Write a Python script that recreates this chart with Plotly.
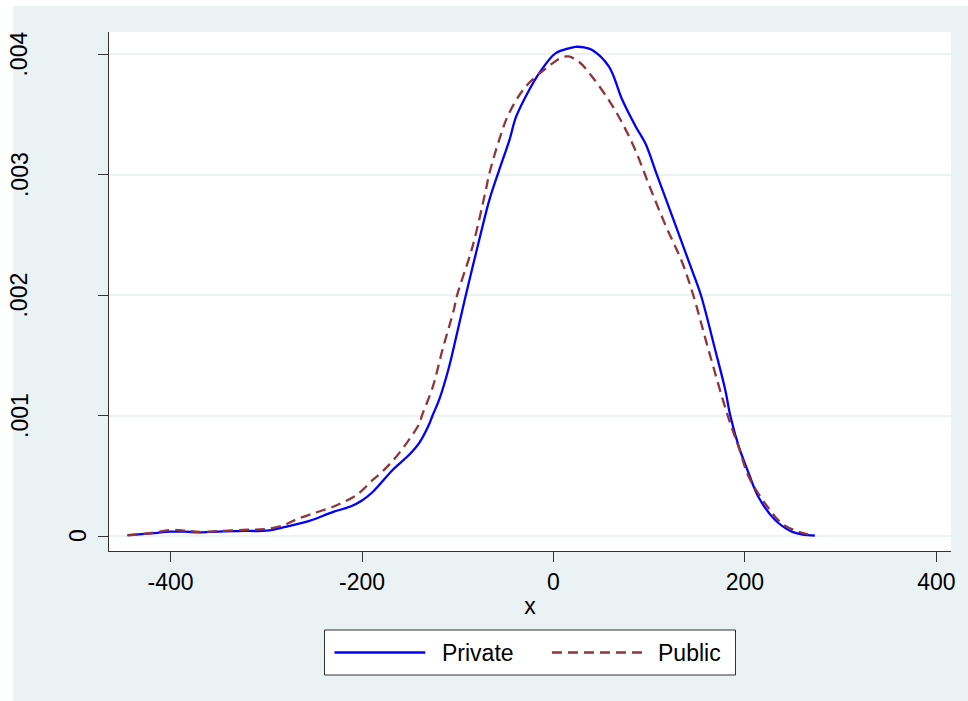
import plotly.graph_objects as go

# ---- data ----
private_x = [-445, -420, -400, -385, -370, -350, -320, -300, -280, -255, -230, -212, -200, -188.8,
             -168, -150, -140, -130, -126.3, -119, -109, -98.5, -91.5, -77.6, -67, -57, -46, -39, -25.5,
             -15, 2, 16, 23, 32, 40.5, 58, 72, 86, 96, 108, 127, 145, 154, 169, 179.5, 184.7, 193.3,
             204, 214, 231.6, 249, 260, 273]
private_y = [0.000008, 0.000022, 0.000036, 0.000036, 0.000030, 0.000037, 0.000042, 0.000044, 0.000075,
             0.000125, 0.000200, 0.000245, 0.000295, 0.000365, 0.000548, 0.000680, 0.000775, 0.000925,
             0.001000, 0.001140, 0.001405, 0.001760, 0.002000, 0.002456, 0.002788, 0.003030, 0.003286,
             0.003480, 0.003700, 0.003840, 0.004006, 0.004047, 0.004060, 0.004055, 0.004033, 0.003895,
             0.003618, 0.003397, 0.003259, 0.003000, 0.002590, 0.002200, 0.002000, 0.001544, 0.001212,
             0.001000, 0.000750, 0.000520, 0.000326, 0.000133, 0.000036, 0.000012, 0.000004]

public_x = [-445, -420, -400, -385, -370, -350, -320, -300, -280, -268, -250, -230, -223.5, -205.7,
            -188.8, -178, -161, -140, -137.4, -126, -116, -104, -100.6, -84.6, -70.7, -67.2, -56.8, -46.4,
            -29, -8, 9, 16, 26.6, 40.4, 57.8, 71.7, 85.7, 99.5, 117, 134, 146, 162, 182, 193.3, 204,
            221, 238.5, 256, 270]
public_y = [0.000005, 0.000025, 0.000050, 0.000045, 0.000033, 0.000040, 0.000052, 0.000058, 0.000095,
            0.000140, 0.000190, 0.000243, 0.000266, 0.000340, 0.000465, 0.000540, 0.000690, 0.000935,
            0.001000, 0.001239, 0.001544, 0.001880, 0.002000, 0.002400, 0.002870, 0.003000, 0.003286,
            0.003508, 0.003730, 0.003880, 0.003973, 0.003980, 0.003936, 0.003812, 0.003618, 0.003430,
            0.003200, 0.002920, 0.002580, 0.002280, 0.002000, 0.001544, 0.001000, 0.000741, 0.000492,
            0.000271, 0.000105, 0.000036, 0.000008]

series_names = ["Private", "Public"]
x_ticks = [-400, -200, 0, 200, 400]
x_tick_text = ["-400", "-200", "0", "200", "400"]
y_ticks = [0, 0.001, 0.002, 0.003, 0.004]
y_tick_text = ["0", ".001", ".002", ".003", ".004"]
x_title = "x"

# ---- style ----
BG = "#EAF2F3"
BLUE = "#0000FF"
MAROON = "#90353B"
FONT = "Liberation Sans, Arial, sans-serif"
FS = 23

W, H = 968, 701
L, R, T, B = 109, 15, 32, 150
pw, ph = W - L - R, H - T - B


def px_x(p):
    return (p - L) / pw


def px_y(p):
    return (H - B - p) / ph


fig = go.Figure()
fig.add_trace(go.Scatter(x=private_x, y=private_y, mode="lines", name=series_names[0],
                         line=dict(color=BLUE, width=2.3, shape="spline", smoothing=1.0),
                         showlegend=False))
fig.add_trace(go.Scatter(x=public_x, y=public_y, mode="lines", name=series_names[1],
                         line=dict(color=MAROON, width=2.3, dash="10px,6px", shape="spline", smoothing=1.0),
                         showlegend=False))

fig.update_layout(
    width=W, height=H,
    margin=dict(l=L, r=R, t=T, b=B, pad=0),
    paper_bgcolor=BG, plot_bgcolor="white",
    font=dict(family=FONT, size=FS, color="black"),
    xaxis=dict(range=[-464.3, 415.3], tickvals=x_ticks, ticktext=x_tick_text,
               ticks="outside", ticklen=10, tickwidth=1, tickcolor="#333333",
               showline=True, linecolor="#333333", linewidth=1.2, showgrid=False, zeroline=False,
               tickfont=dict(size=FS), title=dict(text=x_title, font=dict(size=FS), standoff=4)),
    yaxis=dict(range=[-0.0001245, 0.004183], tickvals=y_ticks,
               ticks="outside", ticklen=10, tickwidth=1, tickcolor="#333333",
               showline=True, linecolor="#333333", linewidth=1.2,
               showgrid=True, gridcolor=BG, gridwidth=1.5, zeroline=False,
               showticklabels=False),
)

# y tick labels (rotated, Stata-style placement depending on label length)
for v, t in zip(y_ticks, y_tick_text):
    fig.add_annotation(x=0, xref="paper", y=v, yref="y", text=t, showarrow=False,
                       textangle=-90, xanchor="center", yanchor="middle",
                       xshift=-(31 + 19.5 * (len(t) - 1)),
                       font=dict(size=FS, family=FONT, color="black"))

# white strips at top/left edges of the picture
fig.add_shape(type="rect", xref="paper", yref="paper", x0=px_x(-5), x1=px_x(13), y0=px_y(H + 5), y1=px_y(-5),
              fillcolor="white", line=dict(width=0), layer="above")
fig.add_shape(type="rect", xref="paper", yref="paper", x0=px_x(-5), x1=px_x(W + 5), y0=px_y(6), y1=px_y(-5),
              fillcolor="white", line=dict(width=0), layer="above")

# legend box (drawn manually to match Stata key lengths)
fig.add_shape(type="rect", xref="paper", yref="paper", x0=px_x(325), x1=px_x(737), y0=px_y(675), y1=px_y(630),
              fillcolor="white", line=dict(color="#333333", width=1), layer="above")
fig.add_shape(type="line", xref="paper", yref="paper", x0=px_x(335), x1=px_x(426), y0=px_y(652.5), y1=px_y(652.5),
              line=dict(color=BLUE, width=2.3), layer="above")
fig.add_shape(type="line", xref="paper", yref="paper", x0=px_x(553), x1=px_x(646), y0=px_y(652.5), y1=px_y(652.5),
              line=dict(color=MAROON, width=2.3, dash="10px,6px"), layer="above")
fig.add_annotation(x=px_x(441), xref="paper", y=px_y(652.5), yref="paper", text=series_names[0],
                   showarrow=False, xanchor="left", yanchor="middle", font=dict(size=FS, family=FONT))
fig.add_annotation(x=px_x(657), xref="paper", y=px_y(652.5), yref="paper", text=series_names[1],
                   showarrow=False, xanchor="left", yanchor="middle", font=dict(size=FS, family=FONT))

fig.write_html("out.html")
